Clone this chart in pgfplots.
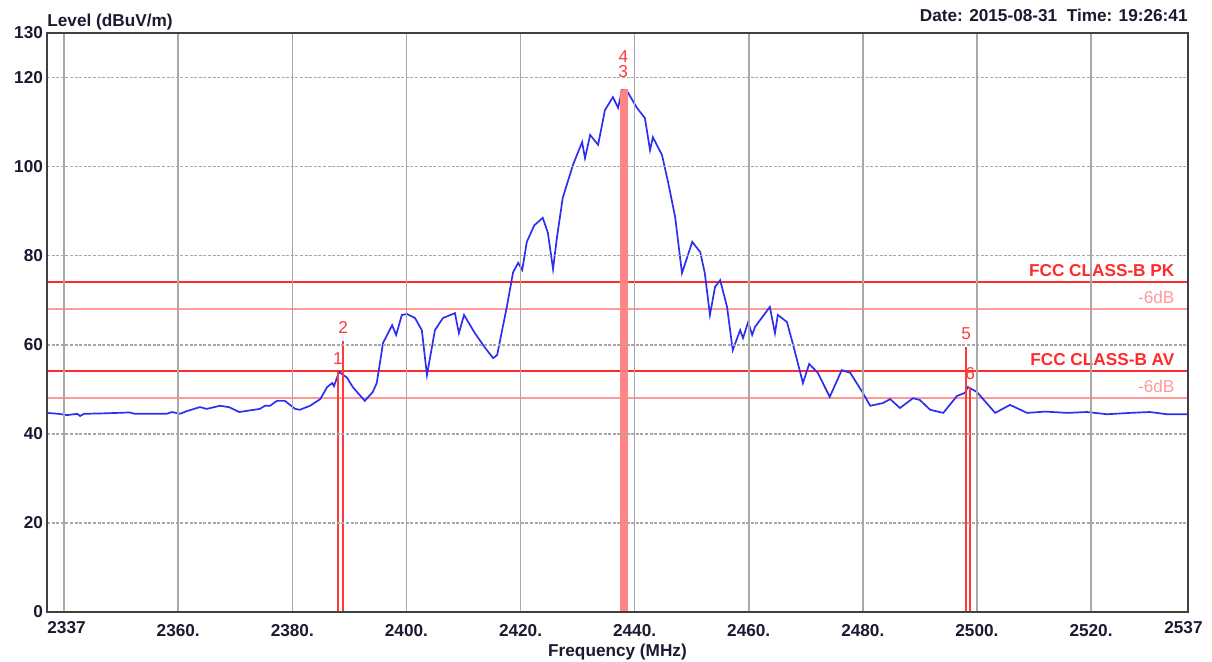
\documentclass[border=0pt]{standalone}
\usepackage{pgfplots}
\pgfplotsset{compat=1.18}
\usepackage{pgfplotstable}
\usepackage{fontspec}
\setmainfont{Liberation Sans}
\definecolor{txt}{HTML}{1A1A30}
\definecolor{trace}{HTML}{2E2EF0}
\definecolor{lim}{HTML}{FF2A2A}
\definecolor{limlt}{HTML}{FF9A9A}
\definecolor{mk}{HTML}{FF3A3A}
\definecolor{mkband}{HTML}{FF8585}
\definecolor{gridc}{HTML}{A8A8A8}
\pgfplotstableread{
f L
2337.0 44.7
2339.0 44.5
2340.5 44.2
2342.3 44.5
2342.8 44.0
2343.5 44.5
2347.0 44.6
2351.5 44.8
2352.4 44.5
2358.0 44.5
2358.9 44.9
2360.3 44.5
2361.5 45.1
2363.8 46.0
2365.0 45.6
2367.3 46.3
2368.9 46.0
2370.7 44.9
2374.3 45.6
2375.2 46.3
2376.1 46.3
2377.3 47.4
2378.7 47.4
2380.5 45.6
2381.3 45.4
2383.1 46.3
2384.9 47.8
2386.1 50.5
2387.0 51.4
2387.3 50.7
2388.2 53.9
2389.6 52.6
2390.6 50.5
2392.7 47.4
2394.1 49.4
2394.8 51.4
2395.9 60.4
2397.5 64.4
2398.2 62.2
2399.2 66.7
2400.1 66.9
2401.5 66.0
2402.7 63.3
2403.6 53.2
2405.0 63.3
2406.4 66.0
2408.5 67.1
2409.2 62.6
2410.1 66.7
2412.0 62.6
2413.8 59.3
2415.2 57.0
2415.9 57.7
2417.6 68.5
2418.7 76.3
2419.6 78.4
2420.3 76.8
2421.1 83.1
2422.4 86.8
2423.9 88.5
2424.8 85.1
2425.7 77.0
2426.4 84.2
2427.4 93.0
2429.2 100.4
2430.8 105.5
2431.3 101.9
2432.2 107.1
2433.6 104.9
2434.8 112.7
2436.2 115.6
2437.1 113.2
2437.8 117.2
2438.8 116.7
2440.4 113.2
2441.8 110.9
2442.7 103.7
2443.2 106.6
2444.8 102.6
2445.9 96.3
2447.1 88.7
2448.3 76.1
2450.1 83.1
2451.5 80.8
2452.3 76.1
2453.2 66.7
2454.1 73.0
2455.0 74.5
2456.2 68.5
2457.2 58.8
2458.5 63.3
2459.0 61.5
2459.9 65.1
2460.6 62.2
2461.1 64.0
2463.7 68.5
2464.6 62.6
2465.1 66.7
2466.7 65.1
2467.8 59.9
2469.5 51.4
2470.6 55.7
2472.1 53.7
2474.2 48.3
2476.3 54.3
2477.8 53.7
2480.0 49.2
2481.3 46.3
2483.5 46.9
2484.8 47.8
2486.5 45.8
2488.8 48.0
2490.0 47.6
2491.8 45.4
2494.1 44.7
2496.5 48.5
2497.9 49.2
2498.4 50.5
2500.0 49.4
2503.2 44.7
2505.8 46.5
2508.8 44.7
2512.0 45.0
2515.8 44.7
2519.3 44.9
2522.8 44.4
2526.8 44.7
2530.3 44.9
2533.3 44.4
2536.8 44.4
}\trace
\newcommand{\tfont}{\bfseries\fontsize{8.6}{10}\selectfont}
\newcommand{\rfont}{\fontsize{8.6}{10}\selectfont}
\begin{document}
\begin{tikzpicture}
\begin{axis}[
  scale only axis, width=570.5pt, height=289.5pt,
  xmin=2337, xmax=2537, ymin=0, ymax=130,
  axis on top,
  axis line style={draw=black!75, line width=1pt},
  major tick length=0pt,
  xtick={2340,2360,...,2520},
  xticklabels={,2360.,2380.,2400.,2420.,2440.,2460.,2480.,2500.,2520.},
  ytick={0,20,40,60,80,100,120,130},
  yticklabels={0,20,40,60,80,100,120,130},
  xmajorgrids, ymajorgrids,
  x grid style={draw=gridc, line width=0.8pt},
  y grid style={draw=gridc, line width=0.8pt, dash pattern=on 1.5pt off 0.8pt},
  tick label style={font=\tfont, text=txt},
  xticklabel style={yshift=-2.5pt},
  yticklabel style={xshift=1.5pt},
  /pgf/number format/assume math mode=true,
  clip=false,
]
% limit lines
\addplot[lim, line width=1pt] coordinates {(2337,74) (2537,74)}
  node[pos=1, anchor=base east, xshift=-3pt, yshift=3pt, font=\tfont, text=lim] {FCC CLASS-B PK};
\addplot[limlt, line width=1pt] coordinates {(2337,68) (2537,68)}
  node[pos=1, anchor=base east, xshift=-3pt, yshift=3pt, font=\rfont, text=limlt] {-6dB};
\addplot[lim, line width=1pt] coordinates {(2337,54) (2537,54)}
  node[pos=1, anchor=base east, xshift=-3pt, yshift=3pt, font=\tfont, text=lim] {FCC CLASS-B AV};
\addplot[limlt, line width=1pt] coordinates {(2337,48) (2537,48)}
  node[pos=1, anchor=base east, xshift=-3pt, yshift=3pt, font=\rfont, text=limlt] {-6dB};
% trace
\addplot[trace, line width=0.85pt] table[x=f, y=L] {\trace};
% markers
\addplot[mk, line width=0.7pt] coordinates {(2388.0,0) (2388.0,53.9)}
  node[pos=1, anchor=south, font=\rfont, text=mk] {1};
\addplot[mk, line width=0.7pt] coordinates {(2388.9,0) (2388.9,60.8)}
  node[pos=1, anchor=south, font=\rfont, text=mk] {2};
\addplot[mkband, line width=2.4pt] coordinates {(2438.4,0) (2438.4,117.4)}
  node[pos=1, anchor=south, xshift=-1pt, yshift=9pt, font=\rfont, text=mk] {4};
\addplot[mkband, line width=2.4pt] coordinates {(2437.8,0) (2437.8,117.2)}
  node[pos=1, anchor=south, xshift=0.5pt, yshift=1.5pt, font=\rfont, text=mk] {3};
\addplot[mk, line width=0.7pt] coordinates {(2498.1,0) (2498.1,59.5)}
  node[pos=1, anchor=south, font=\rfont, text=mk] {5};
\addplot[mk, line width=0.7pt] coordinates {(2498.8,0) (2498.8,50.5)}
  node[pos=1, anchor=south, font=\rfont, text=mk] {6};
\end{axis}
\node[anchor=north west, font=\tfont, text=txt, inner sep=0pt, yshift=-4.5pt] at (current axis.south west) {2337};
\node[anchor=north east, font=\tfont, text=txt, inner sep=0pt, xshift=7.5pt, yshift=-4.5pt] at (current axis.south east) {2537};
\node[anchor=base, font=\tfont, text=txt, yshift=-22pt] at (current axis.south) {Frequency (MHz)};
\node[anchor=base west, font=\tfont, text=txt, inner sep=0pt, yshift=3pt] at (current axis.north west) {Level (dBuV/m)};
\node[anchor=base east, font=\tfont, text=txt, inner sep=0pt, yshift=5.5pt] at (current axis.north east) {Date: 2015-08-31\ \ Time: 19:26:41};
\pgfresetboundingbox
\path ([xshift=-23.5pt, yshift=-25pt]current axis.south west) rectangle ([xshift=12pt, yshift=16.5pt]current axis.north east);
\end{tikzpicture}
\end{document}
